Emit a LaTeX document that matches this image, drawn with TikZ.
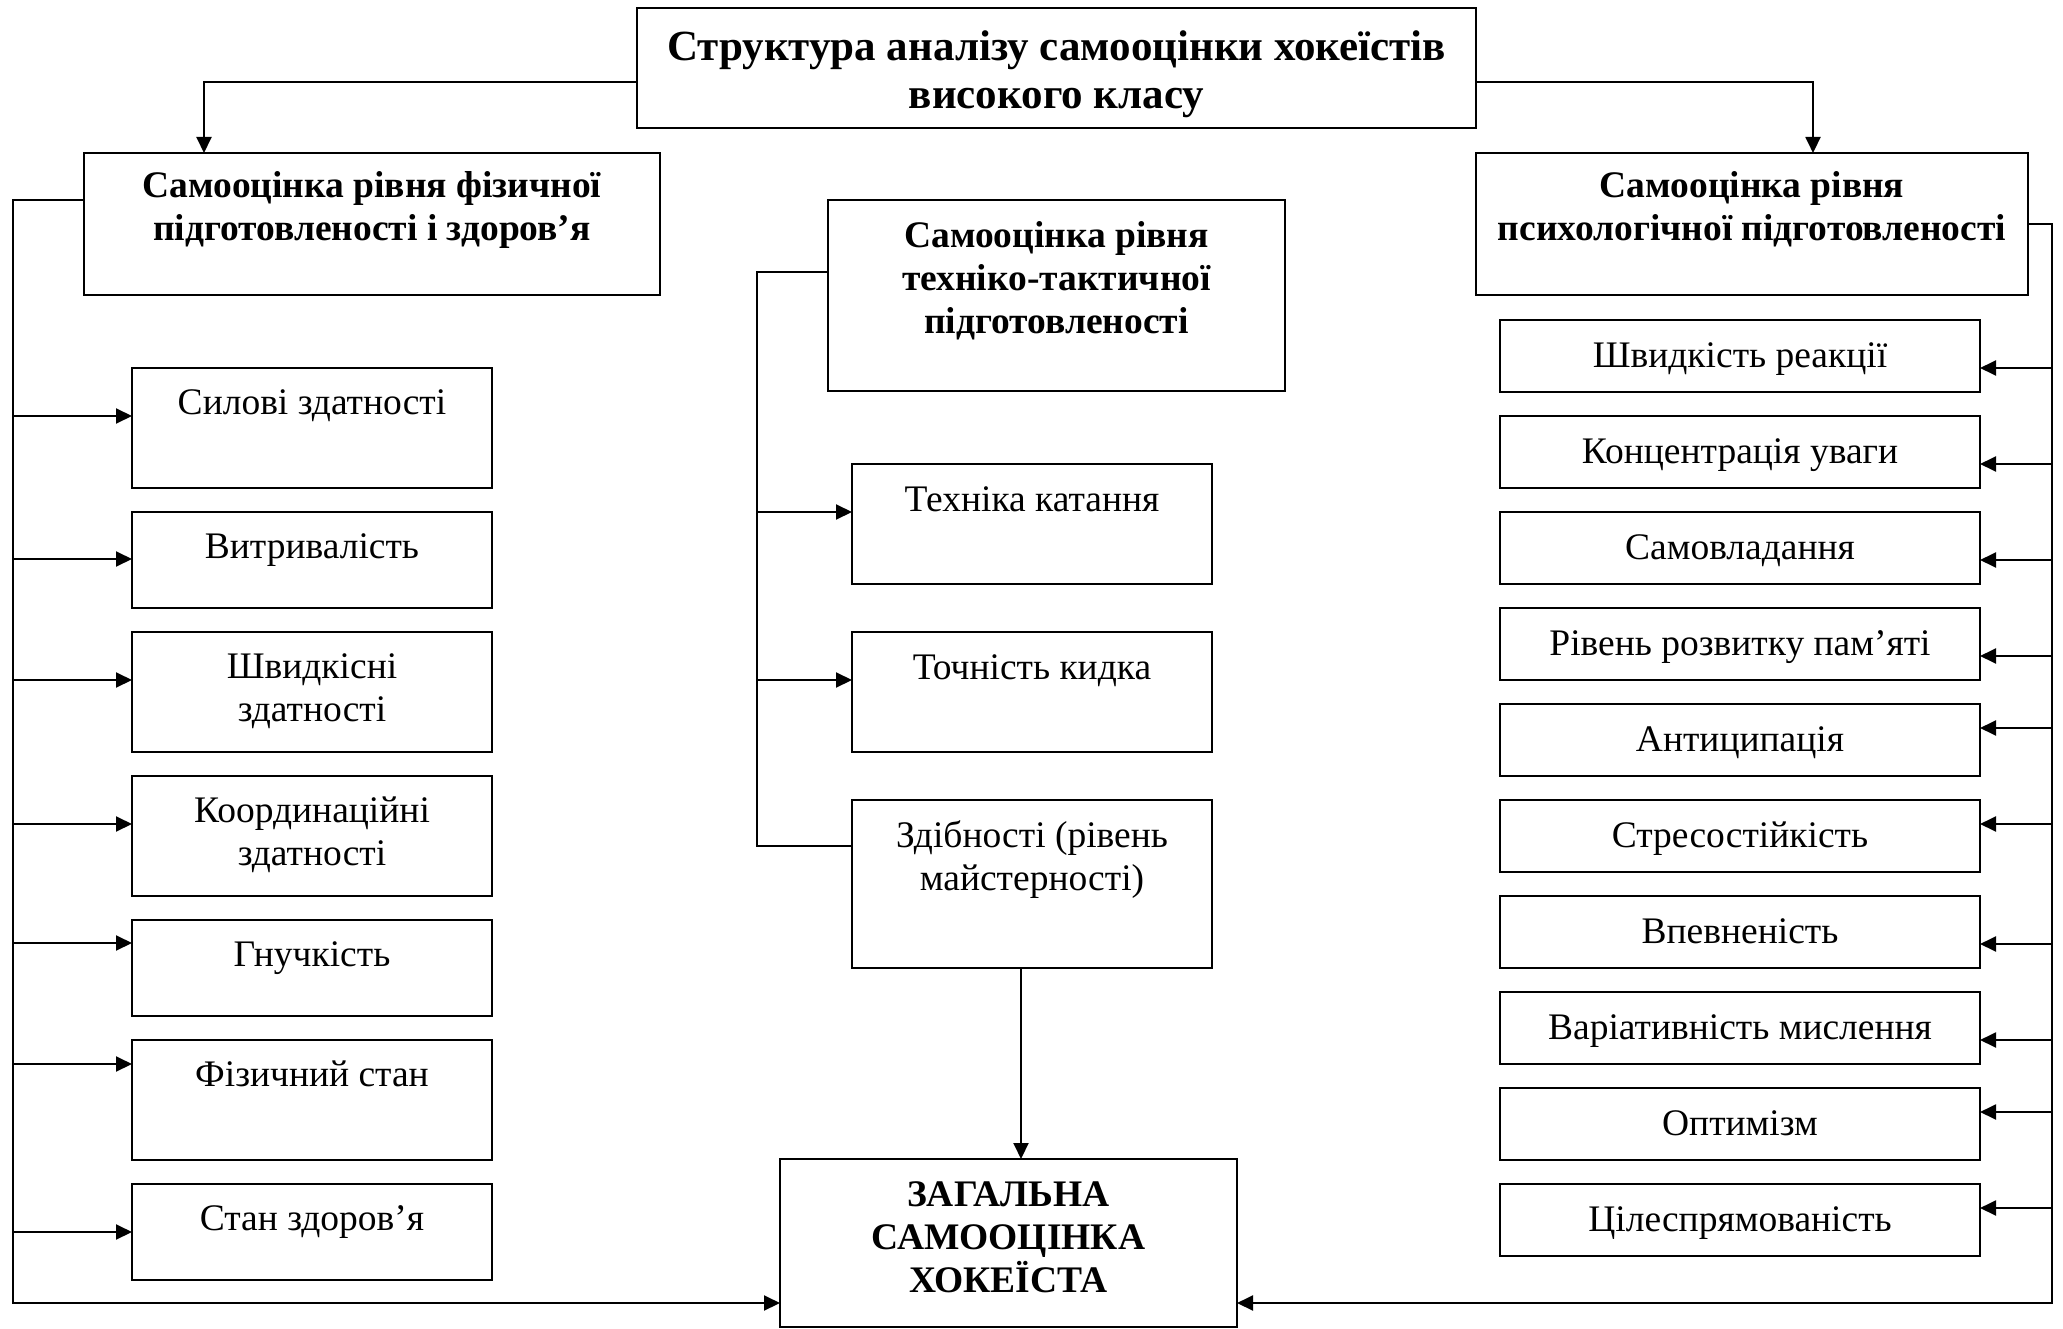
\documentclass[tikz,border=0pt]{standalone}
\usepackage{fontspec}
\setmainfont{Liberation Serif}
\usetikzlibrary{arrows.meta}
\newcommand{\mystrut}{\rule{0pt}{34pt}}
\newcommand{\bigstrut}{\rule{0pt}{38pt}}
\begin{document}
\begin{tikzpicture}[x=1pt,y=-1pt,
  bx/.style={draw, line width=2pt, anchor=north west, inner sep=0pt, outer sep=0pt},
  tx/.style={anchor=north, inner sep=0pt, align=center, font=\fontsize{37.5}{43}\selectfont},
  tb/.style={anchor=north, inner sep=0pt, align=center, font=\fontsize{37.5}{43}\selectfont\bfseries},
  ln/.style={line width=2pt},
  arr/.style={line width=2pt, -{Triangle[length=16pt,width=15pt]}}
]
\fill[white] (0,0) rectangle (2063,1329);
\useasboundingbox (0,0) rectangle (2063,1329);

% ---- top
\node[bx, minimum width=839pt, minimum height=120pt] (top) at (637,8) {};
\node[tb, font=\fontsize{43}{48}\selectfont\bfseries] (topt) at ([yshift=-14pt]top.north) {\bigstrut Структура аналізу самооцінки хокеїстів\\високого класу};

% ---- headers
\node[bx, minimum width=576pt, minimum height=142pt] (phys) at (84,153) {};
\node[tb] (physt) at ([yshift=-10pt]phys.north) {\mystrut Самооцінка рівня фізичної\\підготовленості і здоров’я};

\node[bx, minimum width=457pt, minimum height=191pt] (mid) at (828,200) {};
\node[tb] (midt) at ([yshift=-13pt]mid.north) {\mystrut Самооцінка рівня\\техніко-тактичної\\підготовленості};

\node[bx, minimum width=552pt, minimum height=142pt] (psy) at (1476,153) {};
\node[tb] (psyt) at ([yshift=-10pt]psy.north) {\mystrut Самооцінка рівня\\психологічної підготовленості};

\node[bx, minimum width=457pt, minimum height=168pt] (gen) at (780,1159) {};
\node[tb] (gent) at ([yshift=-13pt]gen.north) {\mystrut ЗАГАЛЬНА\\САМООЦІНКА\\ХОКЕЇСТА};

% ---- left items
\foreach \n/\t/\h/\a/\txt in {
  sil/368/120/48/{Силові здатності},
  vyt/512/96/47/{Витривалість},
  shv/632/120/48/{Швидкісні\\здатності},
  koo/776/120/48/{Координаційні\\здатності},
  hnu/920/96/23/{Гнучкість},
  fiz/1040/120/24/{Фізичний стан},
  stn/1184/96/48/{Стан здоров’я}}{
  \node[bx, minimum width=360pt, minimum height=\h pt] (\n) at (132,\t) {};
  \node[tx] (\n t) at ([yshift=-12pt]\n.north) {\mystrut \txt};
  \coordinate (\n A) at ([yshift=-\a pt]\n.north west);
}

% ---- middle items
\foreach \n/\t/\h/\txt in {
  tek/464/120/{Техніка катання},
  toc/632/120/{Точність кидка},
  zdb/800/168/{Здібності (рівень\\майстерності)}}{
  \node[bx, minimum width=360pt, minimum height=\h pt] (\n) at (852,\t) {};
  \node[tx] (\n t) at ([yshift=-13pt]\n.north) {\mystrut \txt};
}

% ---- right items
\foreach \n/\t/\a/\txt in {
  r1/320/48/{Швидкість реакції},
  r2/416/48/{Концентрація уваги},
  r3/512/48/{Самовладання},
  r4/608/48/{Рівень розвитку пам’яті},
  r5/704/24/{Антиципація},
  r6/800/24/{Стресостійкість},
  r7/896/48/{Впевненість},
  r8/992/48/{Варіативність мислення},
  r9/1088/24/{Оптимізм},
  r10/1184/24/{Цілеспрямованість}}{
  \node[bx, minimum width=480pt, minimum height=72pt] (\n) at (1500,\t) {};
  \node[tx] (\n t) at ([yshift=-13pt]\n.north) {\mystrut \txt};
  \coordinate (\n A) at ([yshift=-\a pt]\n.north east);
}

% ---- connectors from top
\coordinate (pA) at ([xshift=120pt]phys.north west);
\coordinate (qA) at ([xshift=337pt]psy.north west);
\draw[arr] ([yshift=-74pt]top.north west) -| (pA);
\draw[arr] ([yshift=-74pt]top.north east) -| (qA);

% ---- general inputs
\coordinate (gA) at ([yshift=-144pt]gen.north west);
\coordinate (gB) at ([yshift=-144pt]gen.north east);

% left trunk
\coordinate (LT) at ([xshift=-71pt,yshift=-47pt]phys.north west);
\draw[arr] ([yshift=-47pt]phys.north west) -- (LT) |- (gA);
\foreach \n in {sil,vyt,shv,koo,hnu,fiz,stn}{
  \draw[arr] (LT |- \n A) -- (\n A);
}

% right trunk
\coordinate (RT) at ([xshift=24pt]psy.east);
\draw[arr] (psy.east) -- (RT) |- (gB);
\foreach \n in {r1,r2,r3,r4,r5,r6,r7,r8,r9,r10}{
  \draw[arr] (RT |- \n A) -- (\n A);
}

% middle trunk
\coordinate (MT) at ([xshift=-71pt,yshift=-72pt]mid.north west);
\coordinate (tekA) at ([yshift=-48pt]tek.north west);
\coordinate (tocA) at ([yshift=-48pt]toc.north west);
\coordinate (zdbA) at ([yshift=-46pt]zdb.north west);
\draw[ln] ([yshift=-72pt]mid.north west) -- (MT) |- (zdbA);
\draw[arr] (MT |- tekA) -- (tekA);
\draw[arr] (MT |- tocA) -- (tocA);

% down to general
\coordinate (zB) at ([xshift=-11pt]zdb.south);
\draw[arr] (zB) -- (zB |- gen.north);
\end{tikzpicture}
\end{document}
